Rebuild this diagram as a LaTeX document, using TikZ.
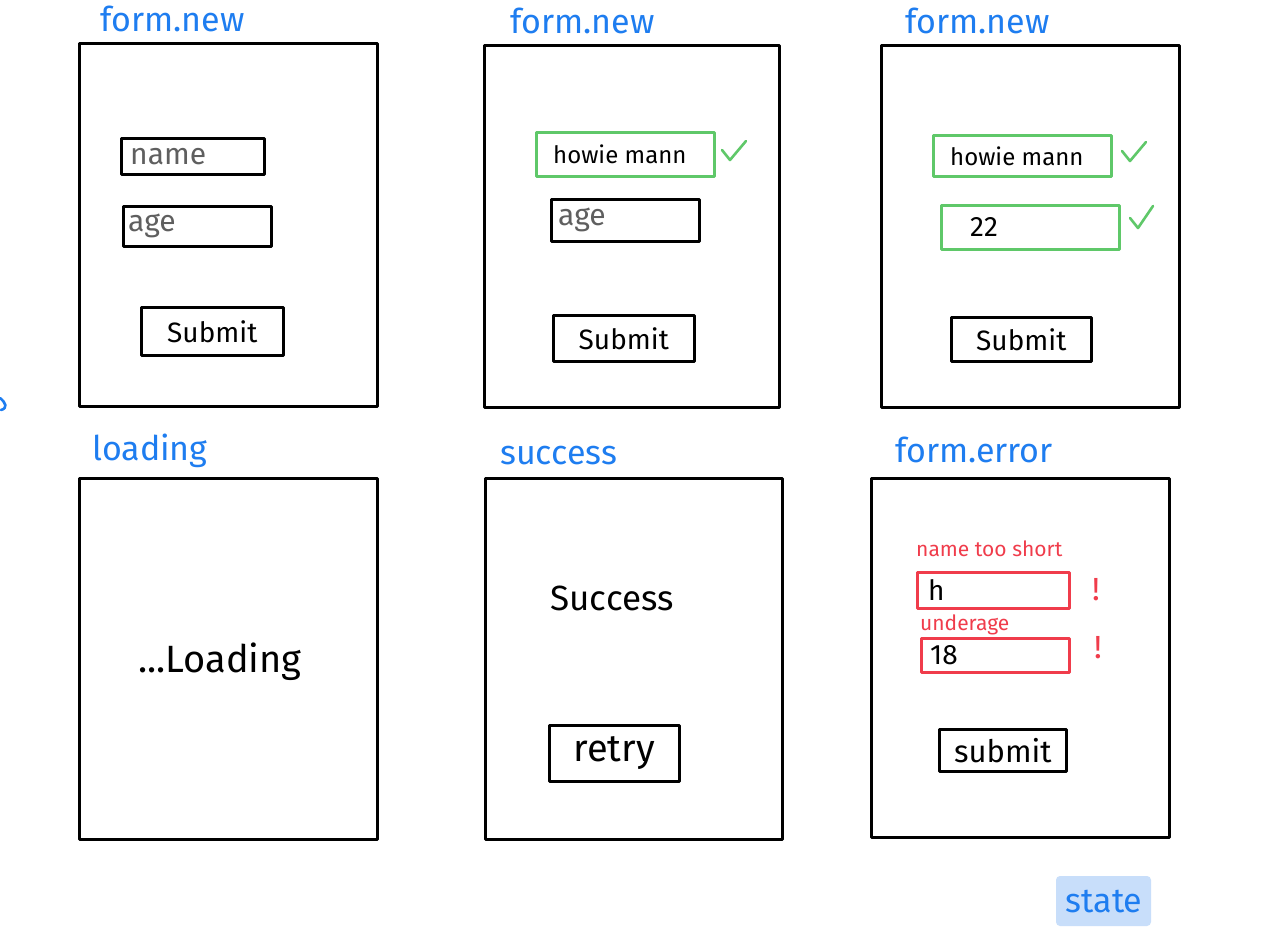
\documentclass[tikz,border=0pt]{standalone}
\usepackage{fontspec}
\setmainfont{Fira Sans}
\definecolor{blueink}{RGB}{30,125,240}
\definecolor{greenink}{RGB}{95,200,105}
\definecolor{redink}{RGB}{240,60,75}
\definecolor{grayink}{RGB}{95,95,95}
\definecolor{hilite}{RGB}{200,222,250}
\begin{document}
\begin{tikzpicture}[x=1pt,y=-1pt,line cap=round,line join=round,
  panel/.style={draw=black,line width=2.6pt,anchor=north west,inner sep=0pt},
  field/.style={draw=black,line width=2.6pt,anchor=north west,inner sep=0pt},
  okfield/.style={field,draw=greenink},
  badfield/.style={field,draw=redink},
  title/.style={text=blueink,font=\fontsize{34}{36}\selectfont,anchor=base west,inner sep=0pt},
  hint/.style={text=grayink,font=\fontsize{30}{32}\selectfont,anchor=west,inner sep=0pt},
  entry/.style={text=black,font=\fontsize{24}{26}\selectfont,anchor=west,inner sep=0pt},
  btntext/.style={text=black,font=\fontsize{28}{30}\selectfont,inner sep=0pt},
  bigtext/.style={text=black,font=\fontsize{38}{40}\selectfont,inner sep=0pt},
  errlabel/.style={text=redink,font=\fontsize{21}{23}\selectfont,anchor=base west,inner sep=0pt},
  bang/.style={text=redink,font=\fontsize{32}{34}\selectfont,inner sep=0pt},
  check/.style={draw=greenink,line width=2.6pt}]
\useasboundingbox (0,0) rectangle (1270,952);
\fill[white] (0,0) rectangle (1270,952);

% ---------- panels ----------
\node[panel,minimum width=298pt,minimum height=363pt] (p1) at (78,42) {};
\node[panel,minimum width=295pt,minimum height=362pt] (p2) at (483,44) {};
\node[panel,minimum width=298pt,minimum height=362pt] (p3) at (880,44) {};
\node[panel,minimum width=298pt,minimum height=361pt] (p4) at (78,477) {};
\node[panel,minimum width=297pt,minimum height=361pt] (p5) at (484,477) {};
\node[panel,minimum width=298pt,minimum height=359pt] (p6) at (870,477) {};

% ---------- titles ----------
\node[title] (t1) at (100,32) {form.new};
\node[title] (t2) at (510,34) {form.new};
\node[title] (t3) at (905,34) {form.new};
\node[title] (t4) at (92,460) {loading};
\node[title] (t5) at (500,464) {success};
\node[title] (t6) at (895,462) {form.error};

% ---------- panel 1 ----------
\node[field,minimum width=143pt,minimum height=36pt] (f1a) at (120,137) {};
\node[hint] (f1at) at ([xshift=10pt]f1a.west) {name};
\node[field,minimum width=148pt,minimum height=40pt] (f1b) at (122,205) {};
\node[hint] (f1bt) at ([xshift=6pt]f1b.west) {age};
\node[field,minimum width=142pt,minimum height=48pt] (b1) at (140,306) {};
\node[btntext] (b1t) at (b1.center) {Submit};

% ---------- panel 2 ----------
\node[okfield,minimum width=178pt,minimum height=44pt] (f2a) at (535,131) {};
\node[entry] (f2at) at ([xshift=18pt]f2a.west) {howie mann};
\draw[check] (722,150) -- (730,160) -- (746,141);
\node[field,minimum width=148pt,minimum height=42pt] (f2b) at (550,198) {};
\node[hint] (f2bt) at ([xshift=8pt]f2b.west) {age};
\node[field,minimum width=141pt,minimum height=46pt] (b2) at (552,314) {};
\node[btntext] (b2t) at (b2.center) {Submit};

% ---------- panel 3 ----------
\node[okfield,minimum width=178pt,minimum height=41pt] (f3a) at (932,134) {};
\node[entry] (f3at) at ([xshift=18pt]f3a.west) {howie mann};
\draw[check] (1122,151) -- (1130,161) -- (1146,142);
\node[okfield,minimum width=178pt,minimum height=44pt] (f3b) at (940,204) {};
\node[entry,font=\fontsize{28}{30}\selectfont] (f3bt) at ([xshift=30pt]f3b.west) {22};
\draw[check] (1130,218) -- (1138,228) -- (1153,206);
\node[field,minimum width=140pt,minimum height=44pt] (b3) at (950,316) {};
\node[btntext] (b3t) at (b3.center) {Submit};

% ---------- panel 4 ----------
\node[bigtext] (load) at (220,662) {...Loading};

% ---------- panel 5 ----------
\node[bigtext,font=\fontsize{35}{37}\selectfont] (succ) at (612,598) {Success};
\node[field,minimum width=130pt,minimum height=56pt] (b5) at (548,724) {};
\node[btntext,font=\fontsize{38}{40}\selectfont] (b5t) at (b5.center) {retry};

% ---------- panel 6 ----------
\node[errlabel] (e1) at (916,556) {name too short};
\node[badfield,minimum width=152pt,minimum height=36pt] (f6a) at (916,571) {};
\node[entry,font=\fontsize{28}{30}\selectfont] (f6at) at ([xshift=12pt]f6a.west) {h};
\node[bang] (x1) at (1096,590) {!};
\node[errlabel] (e2) at (920,630) {underage};
\node[badfield,minimum width=148pt,minimum height=34pt] (f6b) at (920,637) {};
\node[entry,font=\fontsize{28}{30}\selectfont] (f6bt) at ([xshift=10pt]f6b.west) {18};
\node[bang] (x2) at (1098,648) {!};
\node[field,minimum width=127pt,minimum height=42pt] (b6) at (938,728) {};
\node[btntext,font=\fontsize{31}{33}\selectfont] (b6t) at (b6.center) {submit};

% ---------- state tag ----------
\fill[hilite,rounded corners=4pt] (1056,876) rectangle (1151,926);
\node[title,anchor=center] (st) at (1104,902) {state};

% ---------- stray mark at left edge ----------
\draw[blueink,line width=2.6pt] (0,398) .. controls (6,403) and (8,408) .. (1,410);
\end{tikzpicture}
\end{document}
